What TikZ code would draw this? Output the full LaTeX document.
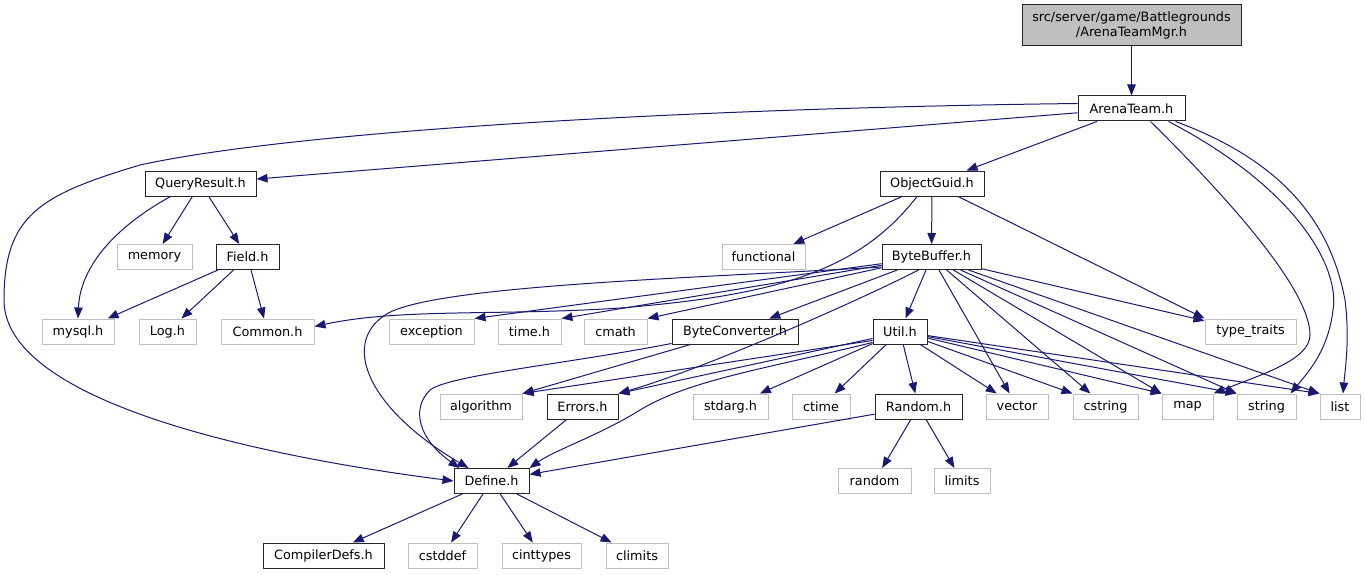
\documentclass[tikz,border=0pt]{standalone}
\usepackage{fontspec}
\setmainfont{DejaVu Sans}
\usepackage{tikz}
\usetikzlibrary{arrows.meta,calc}

\definecolor{edgeblue}{HTML}{191970}
\definecolor{extgray}{HTML}{BFBFBF}

\begin{document}
\begin{tikzpicture}[x=1pt,y=-1pt,
	every node/.style={font=\fontsize{12.8}{15}\selectfont, inner sep=0pt, minimum height=25pt},
	docfile/.style={draw=black!85, line width=1pt, fill=white},
	extfile/.style={draw=extgray, line width=1pt, fill=white},
	inc/.style={draw=edgeblue, line width=1pt, -{Triangle[length=11pt,width=8.5pt]}}]
	\useasboundingbox (0,0) rectangle (1365,575);
	%
	\node [docfile, fill=extgray, minimum width=219pt, minimum height=41pt, align=center] (mgr) at (1131.5,25.5) {src/server/game/Battlegrounds\\/ArenaTeamMgr.h};
	\node [docfile, minimum width=107pt] (arena) at (1131.5,108.5) {ArenaTeam.h};
	\node [docfile, minimum width=111pt] (query) at (200.5,183.5) {QueryResult.h};
	\node [docfile, minimum width=104pt] (guid) at (932,183.5) {ObjectGuid.h};
	\node [extfile, minimum width=75pt] (memory) at (154.5,257) {memory};
	\node [docfile, minimum width=63pt] (field) at (247.5,257) {Field.h};
	\node [extfile, minimum width=83pt] (functional) at (763.5,257) {functional};
	\node [docfile, minimum width=99pt] (bytebuf) at (931.5,257) {ByteBuffer.h};
	\node [extfile, minimum width=72pt] (mysql) at (78,331.5) {mysql.h};
	\node [extfile, minimum width=57pt] (log) at (167.5,331.5) {Log.h};
	\node [extfile, minimum width=93pt] (common) at (267.5,331.5) {Common.h};
	\node [extfile, minimum width=85pt] (exception) at (431.5,331.5) {exception};
	\node [extfile, minimum width=63pt] (timeh) at (529.5,331.5) {time.h};
	\node [extfile, minimum width=63pt] (cmath) at (615.5,331.5) {cmath};
	\node [docfile, minimum width=126pt] (byteconv) at (735,331.5) {ByteConverter.h};
	\node [docfile, minimum width=54pt] (util) at (900,331.5) {Util.h};
	\node [extfile, minimum width=91pt] (typetraits) at (1250.5,331.5) {type\_traits};
	\node [extfile, minimum width=82pt] (algorithm) at (481,406.5) {algorithm};
	\node [docfile, minimum width=71pt] (errors) at (582.5,406.5) {Errors.h};
	\node [extfile, minimum width=75pt] (stdarg) at (730.5,406.5) {stdarg.h};
	\node [extfile, minimum width=58pt] (ctime) at (821,406.5) {ctime};
	\node [docfile, minimum width=87pt] (randomh) at (918.5,406.5) {Random.h};
	\node [extfile, minimum width=62pt] (vector) at (1017,406.5) {vector};
	\node [extfile, minimum width=65pt] (cstring) at (1105.5,406.5) {cstring};
	\node [extfile, minimum width=51pt] (map) at (1187.5,406.5) {map};
	\node [extfile, minimum width=59pt] (string) at (1266.5,406.5) {string};
	\node [extfile, minimum width=40pt] (list) at (1340,406.5) {list};
	\node [docfile, minimum width=75pt] (define) at (491.5,481) {Define.h};
	\node [extfile, minimum width=73pt] (random) at (874.5,481) {random};
	\node [extfile, minimum width=56pt] (limits) at (962,481) {limits};
	\node [docfile, minimum width=121pt] (compiler) at (323.5,555.5) {CompilerDefs.h};
	\node [extfile, minimum width=69pt] (cstddef) at (442.5,555.5) {cstddef};
	\node [extfile, minimum width=79pt] (cinttypes) at (541.5,555.5) {cinttypes};
	\node [extfile, minimum width=62pt] (climits) at (637,555.5) {climits};
	%
	% ArenaTeamMgr.h and ArenaTeam.h
	\draw [inc] (mgr) -- (arena);
	\draw [inc] (arena) -- (query);
	\draw [inc] (arena) -- (guid);
	\draw [inc] ([yshift=5pt]arena.west) .. controls (700,108) and (300,130) .. (140,165)
		.. controls (40,195) and (4,215) .. (4,300)
		.. controls (4,400) and (250,455) .. (define.west);
	\draw [inc] ([xshift=19pt]arena.south) .. controls (1230,200) and (1310,290) .. (1310,335)
		.. controls (1310,360) and (1260,375) .. (map.north east);
	\draw [inc] ([xshift=37pt]arena.south) .. controls (1300,190) and (1340,270) .. (1333,310)
		.. controls (1328,350) and (1310,370) .. ([xshift=-6pt]string.north east);
	\draw [inc] ([xshift=44pt]arena.south) .. controls (1280,160) and (1330,220) .. (1345,300)
		.. controls (1350,340) and (1345,370) .. ([xshift=3pt]list.north);
	%
	% QueryResult.h and Field.h
	\draw [inc] ([xshift=-30pt]query.south) .. controls (110,230) and (80,270) .. (mysql.north);
	\draw [inc] (query) -- (memory);
	\draw [inc] (query) -- (field);
	\draw [inc] (field) -- (mysql);
	\draw [inc] (field) -- (log);
	\draw [inc] (field) -- (common);
	%
	% ObjectGuid.h
	\draw [inc] (guid) -- (functional);
	\draw [inc] (guid) -- (bytebuf);
	\draw [inc] (guid) -- (typetraits.north west);
	\draw [inc] ([xshift=-15pt]guid.south) .. controls (860,270) and (780,295) .. (620,308)
		.. controls (500,316) and (400,308) .. ([yshift=5pt]common.east);
	%
	% ByteBuffer.h
	\draw [inc] (bytebuf) -- (exception.north east);
	\draw [inc] (bytebuf) -- (timeh.north east);
	\draw [inc] (bytebuf) -- (cmath.north east);
	\draw [inc] (bytebuf) -- (byteconv);
	\draw [inc] (bytebuf) -- (util);
	\draw [inc] ([xshift=-13pt]bytebuf.south) .. controls (850,305) and (700,370) .. (errors.north east);
	\draw [inc] ([yshift=3pt]bytebuf.south west) .. controls (700,278) and (430,285) .. (385,315)
		.. controls (340,345) and (370,410) .. ([xshift=-23pt]define.north);
	\draw [inc] (bytebuf) -- (vector);
	\draw [inc] (bytebuf) -- (cstring);
	\draw [inc] (bytebuf) -- (map.north west);
	\draw [inc] (bytebuf) -- (string.north west);
	\draw [inc] (bytebuf) -- (list.north west);
	\draw [inc] (bytebuf) -- (typetraits);
	%
	% ByteConverter.h
	\draw [inc] (byteconv) -- (algorithm.north east);
	\draw [inc] ([yshift=1pt]byteconv.south west) .. controls (560,365) and (450,375) .. (430,390)
		.. controls (410,410) and (420,440) .. ([xshift=-32pt]define.north);
	%
	% Util.h
	\draw [inc] ([yshift=4pt]util.south west) -- (algorithm.north east);
	\draw [inc] ([yshift=6pt]util.south west) -- (errors.north east);
	\draw [inc] ([yshift=2pt]util.south west) .. controls (760,370) and (690,380) .. (640,410)
		.. controls (600,435) and (555,450) .. (define.north east);
	\draw [inc] (util) -- (stdarg);
	\draw [inc] (util) -- (ctime);
	\draw [inc] (util) -- (randomh);
	\draw [inc] (util) -- (vector);
	\draw [inc] (util) -- (cstring.north west);
	\draw [inc] (util) -- (map.north west);
	\draw [inc] (util) -- (string.north west);
	\draw [inc] (util) -- (list.north west);
	%
	% Errors.h and Random.h
	\draw [inc] (errors) -- (define);
	\draw [inc] (randomh) -- (define);
	\draw [inc] (randomh) -- (random);
	\draw [inc] (randomh) -- (limits);
	%
	% Define.h
	\draw [inc] (define) -- (compiler);
	\draw [inc] (define) -- (cstddef);
	\draw [inc] (define) -- (cinttypes);
	\draw [inc] (define) -- (climits);
\end{tikzpicture}
\end{document}
